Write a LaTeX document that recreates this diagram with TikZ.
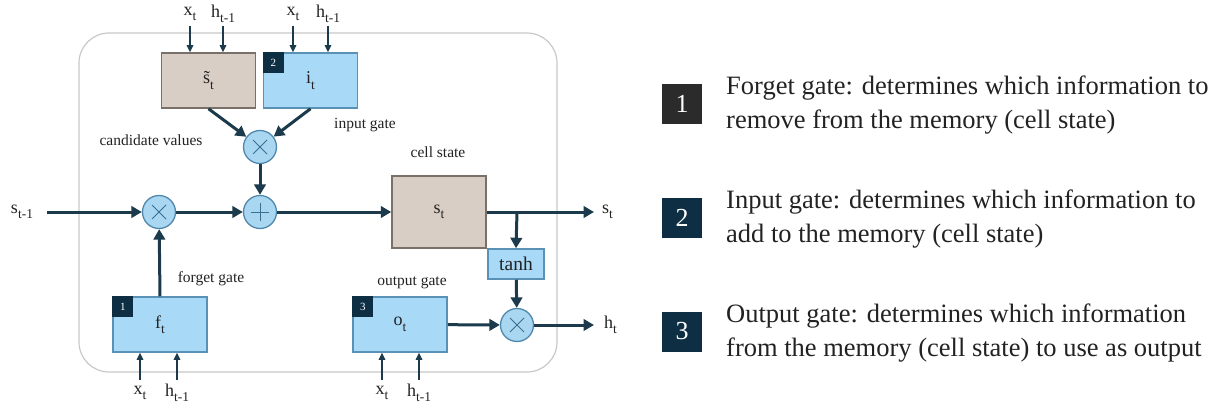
\documentclass[tikz,border=0pt]{standalone}
\usepackage{fontspec}
\setmainfont{Liberation Serif}
\usetikzlibrary{arrows.meta}
\definecolor{arr}{HTML}{1B3A4B}
\definecolor{bluefill}{HTML}{A8D9F6}
\definecolor{bluebd}{HTML}{5A92B6}
\definecolor{beigefill}{HTML}{D9CEC6}
\definecolor{beigebd}{HTML}{7A706A}
\definecolor{circfill}{HTML}{A9D7F2}
\definecolor{circbd}{HTML}{4F88AC}
\definecolor{opline}{HTML}{3A6F90}
\definecolor{badgenavy}{HTML}{0E2E43}
\definecolor{badgegray}{HTML}{2B2B2B}
\definecolor{txt}{HTML}{222222}
\definecolor{frame}{HTML}{C9C9C9}
\newcommand\lsub[1]{\raisebox{-0.3em}{\fontsize{13.5}{13.5}\selectfont #1}}
\tikzset{
 gatebox/.style={draw=bluebd, fill=bluefill, line width=1.5pt, minimum width=94pt, minimum height=55pt, inner sep=0pt, font=\fontsize{18}{18}\selectfont, text=txt},
 candbox/.style={gatebox, draw=beigebd, fill=beigefill},
 op/.style={circle, draw=circbd, fill=circfill, line width=1.3pt, minimum size=33pt, inner sep=0pt},
 flow/.style={draw=arr, line width=3pt, -{Triangle[length=10.5pt,width=11.5pt]}},
 inarrow/.style={draw=arr, line width=1.3pt, -{Triangle[length=7pt,width=6.5pt]}},
 lbl/.style={font=\fontsize{18}{18}\selectfont, text=txt, inner sep=0pt},
 small/.style={font=\fontsize{15.5}{15.5}\selectfont, text=txt, inner sep=0pt},
 badge/.style={fill=badgenavy, text=white, minimum size=21pt, inner sep=0pt, font=\fontsize{11}{11}\selectfont},
 legbadge/.style={minimum size=40pt, inner sep=0pt, text=white, font=\fontsize{26}{26}\selectfont},
 legtext/.style={anchor=west, align=left, font=\fontsize{26.5}{34}\selectfont, text=txt, inner sep=0pt},
 opsign/.style={draw=opline, line width=1pt}
}
\begin{document}
\begin{tikzpicture}[x=1pt,y=-1pt]
\useasboundingbox (0,0) rectangle (1220,409);
\fill[white] (0,0) rectangle (1220,409);
% frame
\draw[frame, line width=1.2pt, rounded corners=30pt] (79,33) rectangle (557,372);
% boxes
\node[candbox] (st) at (208.5,80.5) {\~s\lsub{t}};
\node[gatebox] (it) at (310.5,80.5) {i\lsub{t}};
\node[badge, anchor=north west] (b2) at (it.north west) {2};
\node[candbox, minimum width=94pt, minimum height=72pt] (cell) at (439,212) {s\lsub{t}};
\node[gatebox, minimum width=56pt, minimum height=30pt, font=\fontsize{19.5}{19.5}\selectfont] (tanh) at (516,264) {tanh};
\node[gatebox] (ft) at (160,324.5) {f\lsub{t}};
\node[badge, anchor=north west] (b1) at (ft.north west) {1};
\node[gatebox] (ot) at (400,324.5) {o\lsub{t}};
\node[badge, anchor=north west] (b3) at (ot.north west) {3};
% operators
\node[op] (mt) at (260,147) {};
\node[op] (pl) at (260,212) {};
\node[op] (ml) at (159,212) {};
\node[op] (mr) at (517,325) {};
\foreach \n in {mt,ml,mr}{
 \draw[opsign] ([shift={(-7,-7)}]\n.center) -- ([shift={(7,7)}]\n.center);
 \draw[opsign] ([shift={(-7,7)}]\n.center) -- ([shift={(7,-7)}]\n.center);
}
\draw[opsign] ([shift={(-9,0)}]pl.center) -- ([shift={(9,0)}]pl.center);
\draw[opsign] ([shift={(0,-9)}]pl.center) -- ([shift={(0,9)}]pl.center);
% small labels
\node[small] (lcand) at (151,140) {candidate values};
\node[small] (linp) at (365,125) {input gate};
\node[small] (lcell) at (438,152) {cell state};
\node[small] (lforg) at (211,279) {forget gate};
\node[small] (lout) at (412,283) {output gate};
% top inputs
\node[lbl] (x1) at (190,14) {x\lsub{t}};
\node[lbl] (h1) at (223,14) {h\lsub{t-1}};
\node[lbl] (x2) at (293,14) {x\lsub{t}};
\node[lbl] (h2) at (328,14) {h\lsub{t-1}};
\coordinate (x1a) at (190,26);
\coordinate (h1a) at (223,26);
\coordinate (x2a) at (293,26);
\coordinate (h2a) at (328,26);
\draw[inarrow] (x1a) -- (x1a |- st.north);
\draw[inarrow] (h1a) -- (h1a |- st.north);
\draw[inarrow] (x2a) -- (x2a |- it.north);
\draw[inarrow] (h2a) -- (h2a |- it.north);
% bottom inputs
\node[lbl] (x3) at (140,393) {x\lsub{t}};
\node[lbl] (h3) at (177,393) {h\lsub{t-1}};
\node[lbl] (x4) at (382,393) {x\lsub{t}};
\node[lbl] (h4) at (419,393) {h\lsub{t-1}};
\coordinate (x3a) at (140,380);
\coordinate (h3a) at (177,380);
\coordinate (x4a) at (382,380);
\coordinate (h4a) at (419,380);
\draw[inarrow] (x3a) -- (x3a |- ft.south);
\draw[inarrow] (h3a) -- (h3a |- ft.south);
\draw[inarrow] (x4a) -- (x4a |- ot.south);
\draw[inarrow] (h4a) -- (h4a |- ot.south);
% external labels
\node[lbl] (sprev) at (22,212) {s\lsub{t-1}};
\coordinate (sin) at (47,212);
\coordinate (sout) at (594,212);
\coordinate (hout) at (594,325);
\coordinate (br) at (517,212);
\node[lbl, anchor=west] (snext) at (602,212) {s\lsub{t}};
\node[lbl, anchor=west] (hnext) at (604,325) {h\lsub{t}};
% flows
\draw[flow] (st.south) -- (mt);
\draw[flow] (it.south) -- (mt);
\draw[flow] (mt) -- (pl);
\draw[flow] (sin) -- (ml);
\draw[flow] (ml) -- (pl);
\draw[flow] (pl) -- (cell);
\draw[flow] (ft.north) -- (ml);
\draw[flow] (cell.east) -- (sout);
\draw[flow] (br) -- (tanh.north);
\draw[flow] (tanh) -- (mr);
\draw[flow] (ot) -- (mr);
\draw[flow] (mr) -- (hout);
% legend
\node[legbadge, fill=badgegray] (L1) at (682,104) {1};
\node[legbadge, fill=badgenavy] (L2) at (682,217.5) {2};
\node[legbadge, fill=badgenavy] (L3) at (682,331.5) {3};
\node[legtext] (T1) at (726,105) {Forget gate: determines which information to\\remove from the memory (cell state)};
\node[legtext] (T2) at (726,219) {Input gate: determines which information to\\add to the memory (cell state)};
\node[legtext] (T3) at (726,333) {Output gate: determines which information\\from the memory (cell state) to use as output};
\end{tikzpicture}
\end{document}
